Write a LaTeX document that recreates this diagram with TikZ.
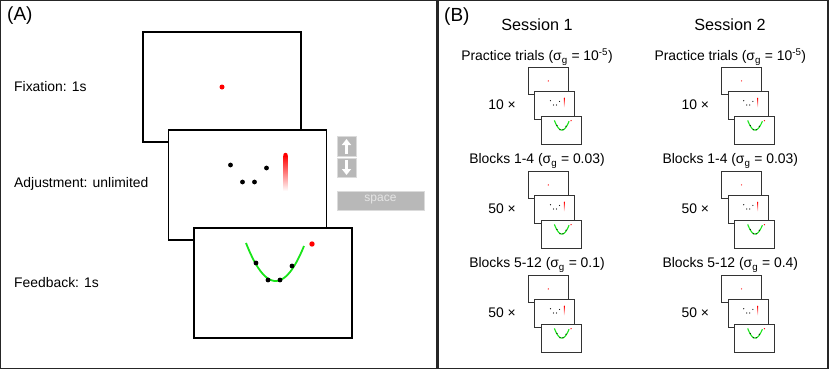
\documentclass[tikz,border=0pt]{standalone}
\usepackage{fontspec}
\setmainfont{Liberation Sans}
\usepackage{tikz}
\usetikzlibrary{arrows.meta}

\definecolor{fitgreen}{rgb}{0.1,0.9,0.1}
\definecolor{keygray}{gray}{0.72}
\definecolor{keyedge}{gray}{0.86}

% one trial: fixation, adjustment and feedback screen (origin = top left)
\newcommand{\drawtrial}{%
  % Fixation screen
  \filldraw[screen] (0,0) rectangle (158,110);
  \fill[red] (79,55) circle (2.5);
  % Adjustment screen
  \begin{scope}[shift={(25.5,98)}]
    \filldraw[screen] (0,0) rectangle (158,110);
    \foreach \px/\py in {62/35,74/52,86/52,98/38}
      \fill[black] (\px,\py) circle (2.4);
    \shade[top color=red, bottom color=white] (115,25) rectangle (119,61);
    \fill[red] (117,25) circle (2.2);
  \end{scope}
  % Feedback screen
  \begin{scope}[shift={(51,196)}]
    \filldraw[screen] (0,0) rectangle (158,110);
    \draw[fitline] plot[domain=52:110, samples=30] (\x,{53-0.0434*(\x-81.6)^2});
    \foreach \px/\py in {62/35,74/52,86/52,98/38}
      \fill[black] (\px,\py) circle (2.4);
    \fill[red] (118,16) circle (2.7);
  \end{scope}%
}

\begin{document}
\begin{tikzpicture}[x=1pt, y=-1pt,
    panel/.style={draw=black!85, line width=1.3pt},
    screen/.style={draw=black, fill=white, line width=1.2pt},
    fitline/.style={fitgreen, line width=1.8pt},
    mini/.style={screen/.style={draw=black!80, fill=white, line width=0.9pt},
                 fitline/.style={fitgreen, line width=1.1pt}},
    txt/.style={font=\fontsize{13.9}{16}\selectfont, inner sep=0pt},
    head/.style={font=\fontsize{16.2}{19}\selectfont, inner sep=0pt},
    tag/.style={font=\fontsize{19}{22}\selectfont, inner sep=0pt, anchor=west},
    key/.style={fill=keygray, draw=keyedge, line width=1pt},
    keyarrow/.style={white, line width=2.2pt, -{Triangle[length=6pt,width=9pt]}}]
  \useasboundingbox (0,0) rectangle (830,370);

  % Panel frames
  \draw[panel] (0.7,0.7) rectangle (437,368.3);
  \draw[panel] (438.6,0.7) rectangle (828,368.3);

  % (A) one trial
  \node[tag] (tagA) at (7,16) {(A)};
  \begin{scope}[shift={(143,32)}]
    \drawtrial
  \end{scope}
  \node[txt, anchor=west] (fix) at (14,87) {Fixation: 1s};
  \node[txt, anchor=west] (adj) at (14,184) {Adjustment: unlimited};
  \node[txt, anchor=west] (fb) at (14,283) {Feedback: 1s};

  % Response keys
  \filldraw[key] (337,136) rectangle (356,156);
  \draw[keyarrow] (346.5,154) -- (346.5,139);
  \filldraw[key] (337,158) rectangle (356,177);
  \draw[keyarrow] (346.5,160) -- (346.5,175);
  \filldraw[key] (337,191) rectangle (424,210);
  \node[font=\fontsize{12}{14}\selectfont, text=black!10, inner sep=0pt] (space) at (380.5,200) {space};

  % (B) sessions
  \node[tag] (tagB) at (444,17) {(B)};
  \node[head] (ses1) at (537,25) {Session 1};
  \node[head] (ses2) at (730,25) {Session 2};

  \foreach \col/\row/\txt/\reps in {
      0/0/{Practice trials (σ\textsubscript{g} = 10\textsuperscript{-5})}/10,
      0/1/{Blocks 1-4 (σ\textsubscript{g} = 0.03)}/50,
      0/2/{Blocks 5-12 (σ\textsubscript{g} = 0.1)}/50,
      1/0/{Practice trials (σ\textsubscript{g} = 10\textsuperscript{-5})}/10,
      1/1/{Blocks 1-4 (σ\textsubscript{g} = 0.03)}/50,
      1/2/{Blocks 5-12 (σ\textsubscript{g} = 0.4)}/50} {
    \pgfmathsetmacro{\bx}{\col*193.3}
    \pgfmathsetmacro{\by}{\row*104}
    \node[txt] (blk-\col-\row) at (537+\bx,57+\by) {\txt};
    \node[txt] (rep-\col-\row) at (502+\bx,105+\by) {\reps{} ×};
    \begin{scope}[shift={(528.3+\bx,67+\by)}, scale=0.2532, mini]
      \drawtrial
    \end{scope}
  }
\end{tikzpicture}
\end{document}
